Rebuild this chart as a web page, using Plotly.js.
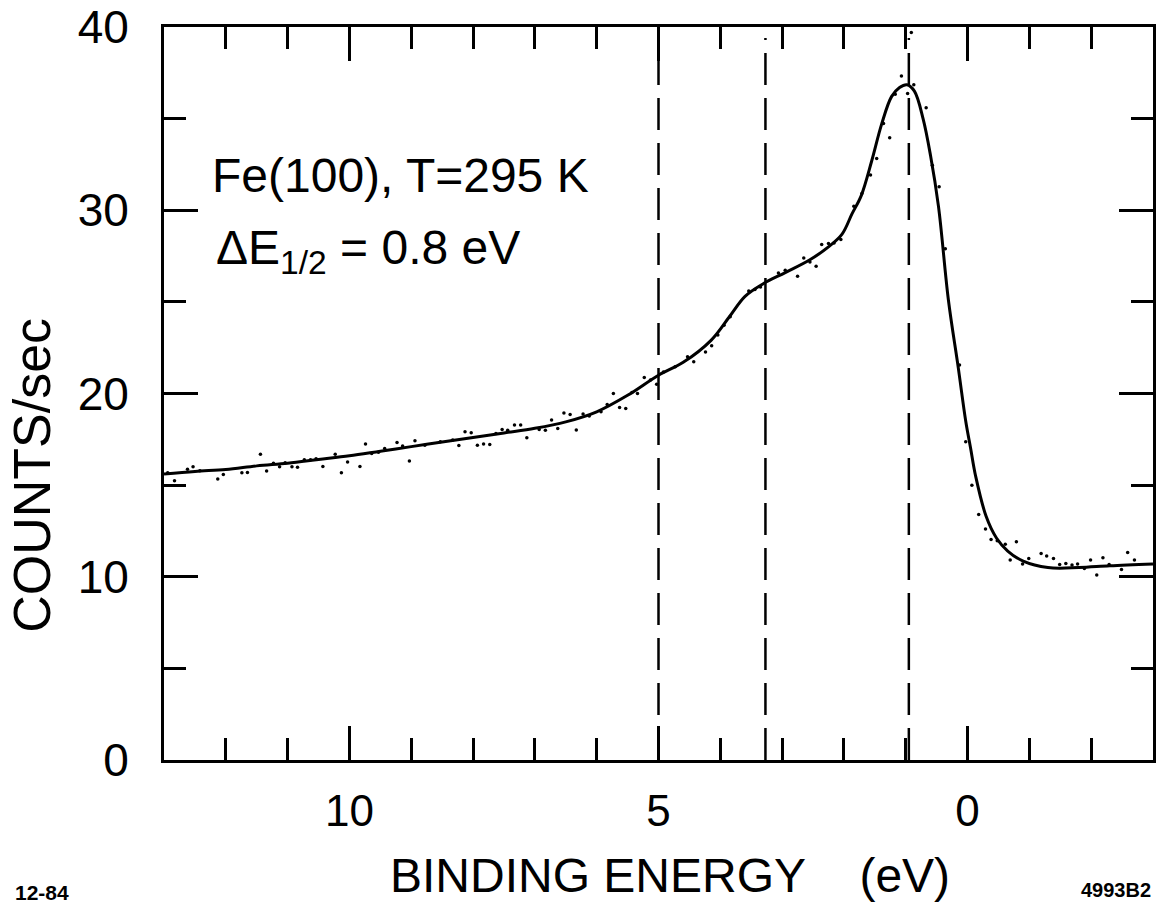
<!DOCTYPE html>
<html>
<head>
<meta charset="utf-8">
<script src="https://cdn.plot.ly/plotly-3.0.1.min.js"></script>
<style>
  html, body { margin: 0; padding: 0; background: #fff; }
  #chart { width: 1159px; height: 911px; }
</style>
</head>
<body>
<div id="chart"></div>
<script>
// Fitted curve (binding energy in eV, counts/sec)
const curveE = [13.0, 12.5, 12.0, 11.5, 11.0, 10.5, 10.0, 9.5, 9.0, 8.5, 8.0, 7.5, 7.0, 6.5, 6.0, 5.5, 5.0, 4.6, 4.15, 3.85, 3.6, 3.3, 2.95, 2.55, 2.25, 2.03, 1.87, 1.72, 1.55, 1.39, 1.23, 1.1, 0.98, 0.86, 0.72, 0.6, 0.47, 0.31, 0.15, 0.03, -0.05, -0.13, -0.3, -0.47, -0.65, -0.9, -1.3, -1.8, -2.3, -3.0];
const curveV = [15.6, 15.75, 15.85, 16.05, 16.2, 16.4, 16.6, 16.85, 17.1, 17.35, 17.6, 17.85, 18.1, 18.45, 19.0, 19.9, 21.0, 21.7, 22.9, 24.2, 25.3, 26.0, 26.6, 27.3, 28.0, 28.7, 29.8, 30.8, 32.7, 34.7, 36.2, 36.7, 36.85, 36.5, 35.0, 33.0, 30.2, 25.1, 21.4, 18.5, 17.0, 15.5, 13.3, 12.1, 11.4, 10.85, 10.5, 10.5, 10.6, 10.7];

// Measured data points
const dotE = [12.94, 12.83, 12.62, 12.53, 12.42, 12.13, 12.04, 11.74, 11.65, 11.44, 11.34, 11.23, 11.13, 11.04, 10.93, 10.84, 10.73, 10.63, 10.54, 10.43, 10.23, 10.13, 10.03, 9.83, 9.74, 9.64, 9.53, 9.43, 9.23, 9.14, 9.03, 8.94, 8.78, 8.53, 8.33, 8.23, 8.13, 8.03, 7.93, 7.83, 7.73, 7.63, 7.53, 7.44, 7.33, 7.23, 7.13, 6.93, 6.83, 6.73, 6.63, 6.53, 6.43, 6.33, 6.22, 6.12, 5.93, 5.83, 5.73, 5.63, 5.53, 5.43, 5.34, 5.23, 5.13, 5.03, 4.92, 4.73, 4.53, 4.43, 4.24, 4.14, 4.04, 3.94, 3.84, 3.54, 3.44, 3.35, 3.06, 2.95, 2.75, 2.65, 2.55, 2.45, 2.36, 2.25, 2.16, 2.05, 1.84, 1.71, 1.57, 1.47, 1.36, 1.26, 1.17, 1.07, 0.97, 0.87, 0.91, 0.67, 0.57, 0.46, 0.36, 0.13, 0.03, -0.07, -0.18, -0.29, -0.38, -0.48, -0.61, -0.69, -0.79, -0.89, -0.99, -1.19, -1.28, -1.39, -1.49, -1.59, -1.69, -1.78, -1.89, -1.99, -2.09, -2.19, -2.29, -2.49, -2.59, -2.70];
const dotV = [15.67, 15.24, 15.86, 16.0, 15.78, 15.33, 15.58, 15.67, 15.69, 16.69, 15.77, 16.19, 16.0, 16.22, 16.0, 15.97, 16.38, 16.38, 16.44, 16.02, 16.69, 15.67, 16.26, 16.02, 17.24, 16.73, 16.8, 17.0, 17.32, 17.13, 16.31, 17.42, 17.18, 17.37, 17.46, 17.16, 17.91, 17.86, 17.18, 17.24, 17.22, 17.82, 18.03, 18.0, 18.28, 18.28, 17.58, 18.03, 18.0, 18.55, 18.09, 18.94, 18.85, 18.01, 18.88, 18.77, 19.0, 19.4, 20.0, 19.24, 19.18, 20.05, 20.0, 20.87, 20.73, 20.5, 21.18, 21.46, 22.0, 21.73, 22.27, 22.6, 23.19, 23.73, 24.19, 25.59, 25.67, 25.81, 26.58, 26.73, 26.4, 27.4, 27.18, 26.95, 28.13, 28.18, 28.21, 28.4, 30.22, 30.92, 31.92, 32.82, 34.73, 33.95, 36.33, 37.32, 36.37, 36.85, 39.7, 35.6, 32.46, 31.28, 27.9, 21.55, 17.37, 15.0, 13.4, 12.6, 12.03, 11.96, 11.78, 10.91, 11.91, 10.69, 11.0, 11.27, 11.13, 11.0, 10.67, 10.72, 10.64, 10.69, 10.45, 10.91, 10.09, 11.04, 10.67, 10.4, 11.33, 10.91];

// Dashed reference lines (eV)
const dashE = [5.0, 3.27, 0.95];

// Axis tick labels
const xTickVals = [10, 5, 0];
const xTickText = ['10', '5', '0'];
const yTickVals = [0, 10, 20, 30, 40];
const yTickText = ['0', '10', '20', '30', '40'];

const FONT = 'Liberation Sans, Arial, sans-serif';
const SMALLFONT = 'Liberation Sans Narrow, Liberation Sans, Arial, sans-serif';

const traces = [
  {
    x: curveE, y: curveV, type: 'scatter', mode: 'lines',
    line: { color: '#000', width: 3, shape: 'spline', smoothing: 1 },
    hoverinfo: 'skip', showlegend: false
  },
  {
    x: dotE, y: dotV, type: 'scatter', mode: 'markers',
    marker: { color: '#000', size: 3.5 },
    hoverinfo: 'skip', showlegend: false
  }
];

const shapes = dashE.map(e => ({
  type: 'line', xref: 'x', yref: 'paper', x0: e, x1: e, y0: 0, y1: 0.985,
  line: { color: '#000', width: 2.5, dash: '32px,13px' }
}));

const layout = {
  width: 1159, height: 911,
  paper_bgcolor: '#fff', plot_bgcolor: '#fff',
  margin: { l: 164, r: 6, t: 27, b: 151 },
  showlegend: false,
  font: { family: FONT, color: '#000' },
  xaxis: {
    range: [13, -3], autorange: false,
    tickmode: 'array', tickvals: xTickVals, ticktext: xTickText,
    ticks: 'inside', ticklen: 34, tickwidth: 3, tickcolor: '#000',
    minor: { dtick: 1, tick0: 0, ticks: 'inside', ticklen: 22, tickwidth: 3, tickcolor: '#000' },
    showline: true, linecolor: '#000', linewidth: 3, mirror: 'allticks',
    showgrid: false, zeroline: false,
    tickfont: { family: FONT, size: 44, color: '#000' },
    ticklabelstandoff: 10
  },
  yaxis: {
    range: [0, 40], autorange: false,
    tickmode: 'array', tickvals: yTickVals, ticktext: yTickText,
    ticks: 'inside', ticklen: 34, tickwidth: 3, tickcolor: '#000',
    minor: { dtick: 5, tick0: 0, ticks: 'inside', ticklen: 22, tickwidth: 3, tickcolor: '#000' },
    showline: true, linecolor: '#000', linewidth: 3, mirror: 'allticks',
    showgrid: false, zeroline: false,
    tickfont: { family: FONT, size: 46, color: '#000' },
    ticklabelstandoff: 23
  },
  shapes: shapes,
  annotations: [
    { text: 'Fe(100), T=295 K', xref: 'paper', yref: 'paper', x: 0.0465, y: 0.798,
      xanchor: 'left', yanchor: 'middle', showarrow: false,
      font: { family: FONT, size: 48, color: '#000' } },
    { text: 'ΔE<sub>1/2</sub> = 0.8 eV', xref: 'paper', yref: 'paper', x: 0.051, y: 0.695,
      xanchor: 'left', yanchor: 'middle', showarrow: false,
      font: { family: FONT, size: 48, color: '#000' } },
    { text: 'COUNTS/sec', xref: 'paper', yref: 'paper', x: -0.1335, y: 0.389,
      xanchor: 'center', yanchor: 'middle', textangle: -90, showarrow: false,
      font: { family: FONT, size: 52, color: '#000' } },
    { text: 'BINDING ENERGY\u00a0\u00a0\u00a0\u00a0(eV)', xref: 'paper', yref: 'paper', x: 0.512, y: -0.158,
      xanchor: 'center', yanchor: 'middle', showarrow: false,
      font: { family: FONT, size: 48, color: '#000' } },
    { text: '<b>12-84</b>', xref: 'paper', yref: 'paper', x: (42 - 164) / 989, y: (760 - 892) / 733,
      xanchor: 'center', yanchor: 'middle', showarrow: false,
      font: { family: SMALLFONT, size: 21, color: '#000' } },
    { text: '<b>4993B2</b>', xref: 'paper', yref: 'paper', x: (1116 - 164) / 989, y: (760 - 890) / 733,
      xanchor: 'center', yanchor: 'middle', showarrow: false,
      font: { family: SMALLFONT, size: 20, color: '#000' } }
  ]
};

Plotly.newPlot('chart', traces, layout, { displayModeBar: false, staticPlot: true });
</script>
</body>
</html>
